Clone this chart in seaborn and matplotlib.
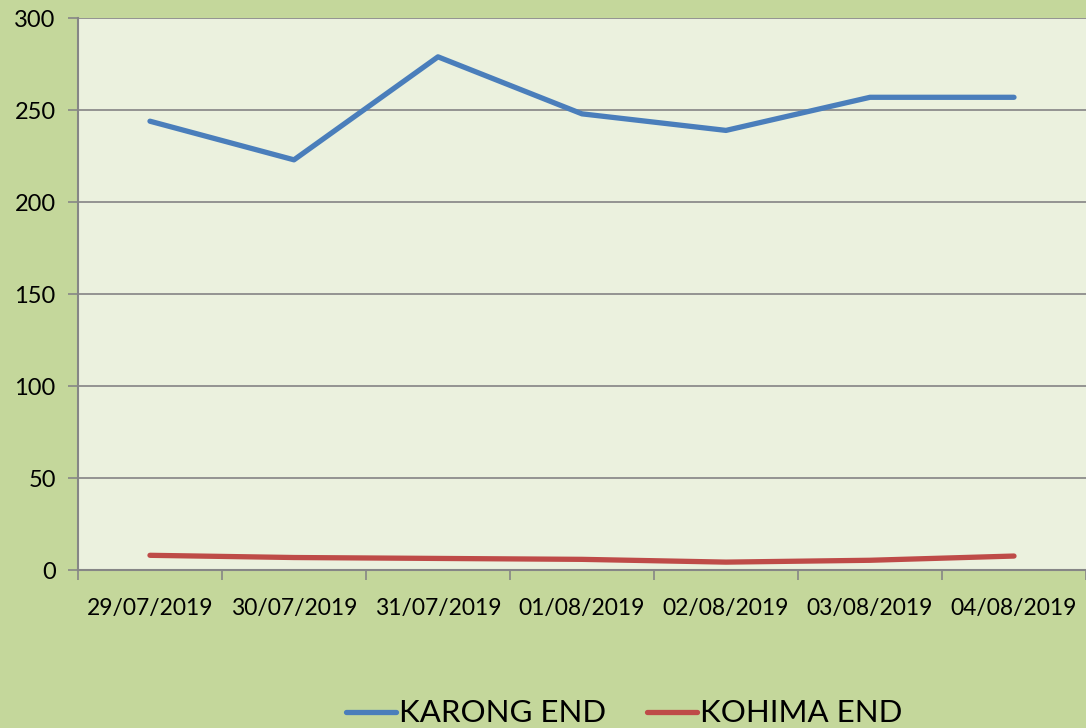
import matplotlib
matplotlib.use('Agg')
import matplotlib.pyplot as plt
import seaborn as sns
import pandas as pd
from matplotlib.ticker import FixedLocator, NullFormatter

# data
dates = ['29/07/2019', '30/07/2019', '31/07/2019', '01/08/2019',
         '02/08/2019', '03/08/2019', '04/08/2019']
karong = [244, 223, 279, 248, 239, 257, 257]
kohima = [8, 6.8, 6.3, 5.8, 4.3, 5.3, 7.6]

df = pd.DataFrame({
    'date': dates * 2,
    'value': karong + kohima,
    'series': ['KARONG END'] * len(dates) + ['KOHIMA END'] * len(dates),
})

sns.set_theme(style='white')
plt.rcParams['font.family'] = ['Lato', 'DejaVu Sans']
plt.rcParams['text.color'] = 'black'
plt.rcParams['xtick.color'] = 'black'
plt.rcParams['ytick.color'] = 'black'

fig = plt.figure(figsize=(10.86, 7.28), dpi=100)
fig.patch.set_facecolor('#c4d79b')
ax = fig.add_axes([0.0718, 0.217, 0.9282, 0.758])
ax.set_facecolor('#ebf1de')

sns.lineplot(data=df, x='date', y='value', hue='series',
             palette=['#4a7ebb', '#be4b48'], linewidth=3.8,
             solid_capstyle='round', ax=ax, sort=False)

ax.set_ylim(0, 300)
ax.set_yticks(range(0, 301, 50))
ax.set_xlim(-0.5, len(dates) - 0.5)
ax.yaxis.grid(True, color='#8c8c8c', linewidth=1.3)
ax.set_axisbelow(True)

# category labels centred, tick marks at the boundaries
ax.set_xticks(range(len(dates)))
ax.set_xticklabels(dates, fontsize=16.5)
ax.tick_params(axis='x', which='major', length=0, pad=20, labelcolor='black')
ax.xaxis.set_minor_locator(FixedLocator([i - 0.5 for i in range(len(dates) + 1)]))
ax.xaxis.set_minor_formatter(NullFormatter())
ax.tick_params(axis='x', which='minor', length=7, width=1.2, color='#868686', bottom=True)
ax.tick_params(axis='y', length=7, width=1.2, color='#868686', labelsize=17,
               left=True, pad=9, labelcolor='black')

for side in ['top', 'right']:
    ax.spines[side].set_visible(False)
for side in ['left', 'bottom']:
    ax.spines[side].set_color('#868686')
    ax.spines[side].set_linewidth(1.5)

ax.set_xlabel('')
ax.set_ylabel('')

handles, labels = ax.get_legend_handles_labels()
ax.legend_.remove()
fig.legend(handles, labels, loc='center', bbox_to_anchor=(0.575, 0.02), ncol=2,
           frameon=False, fontsize=22.5, handlelength=1.6, handletextpad=0.1,
           columnspacing=1.3, labelcolor='black')

fig.savefig('out.png', dpi=100, facecolor=fig.get_facecolor())
